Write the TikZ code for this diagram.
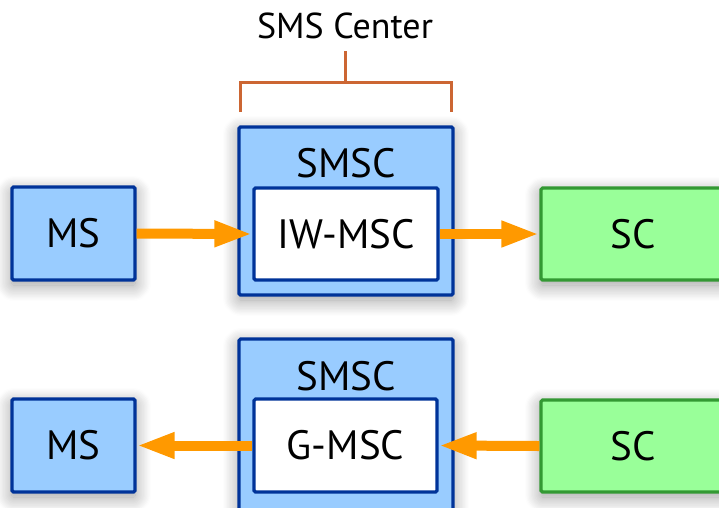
\documentclass[tikz,border=0pt]{standalone}
\usepackage{fontspec}
\setmainfont{PT Sans}
\usetikzlibrary{arrows.meta,shadows.blur}

\definecolor{msfill}{HTML}{99CCFF}
\definecolor{msline}{HTML}{003399}
\definecolor{scfill}{HTML}{99FF99}
\definecolor{scline}{HTML}{339933}
\definecolor{flowcol}{HTML}{FF9900}
\definecolor{bracketcol}{HTML}{CC6633}

\tikzset{
  boxbase/.style={draw, line width=3.2pt, rounded corners=1.5pt, inner sep=0pt,
    text height=28pt, text depth=0pt,
    font=\fontsize{41}{45}\selectfont},
  softshadow/.style={blur shadow={shadow xshift=0pt, shadow yshift=-5pt,
    shadow blur radius=16pt, shadow blur steps=14, shadow opacity=40}},
  bluebox/.style={boxbase, fill=msfill, draw=msline},
  greenbox/.style={boxbase, fill=scfill, draw=scline},
  innerbox/.style={boxbase, fill=white, draw=msline},
  boxlabel/.style={anchor=base, inner sep=0pt, font=\fontsize{41}{45}\selectfont},
  flow/.style={draw=flowcol, line width=10pt,
    -{Triangle[length=38pt,width=24pt]}},
  bracketline/.style={draw=bracketcol, line width=3pt}
}

\begin{document}
\begin{tikzpicture}[x=1pt,y=-1pt]
\useasboundingbox (0,0) rectangle (719,507);
\clip (0,0) rectangle (719,507);

% heading and bracket over the upper SMSC
\node[anchor=base, inner sep=0pt, font=\fontsize{36}{40}\selectfont] (title) at (345,38) {SMS Center};
\coordinate (brL) at (240,112);
\coordinate (brLt) at (240,82);
\coordinate (brRt) at (451,82);
\coordinate (brR) at (451,112);
\coordinate (brM) at (345.5,82);
\coordinate (brTop) at (345.5,51);
\draw[bracketline] (brL) -- (brLt) -- (brRt) -- (brR);
\draw[bracketline] (brM) -- (brTop);

% upper row: MS -> IW-MSC -> SC
\node[bluebox, softshadow, minimum width=123pt, minimum height=93pt] (ms1) at (73.5,233.5) {MS};
\node[bluebox, softshadow, minimum width=214pt, minimum height=168pt] (smsc1) at (346,211) {};
\node[boxlabel] (smsc1lab) at (346,177) {SMSC};
\node[innerbox, minimum width=184pt, minimum height=92pt] (iw) at (346,234) {IW-MSC};
\node[greenbox, softshadow, minimum width=184pt, minimum height=92pt] (sc1) at (633,234) {SC};

\draw[flow] (ms1.east) -- (iw.west);
\draw[flow] (iw.east) -- (sc1.west);

% lower row: SC -> G-MSC -> MS
\node[bluebox, softshadow, minimum width=123pt, minimum height=93pt] (ms2) at (73.5,445.5) {MS};
\node[bluebox, softshadow, minimum width=214pt, minimum height=180pt] (smsc2) at (346,429) {};
\node[boxlabel] (smsc2lab) at (346,390) {SMSC};
\node[innerbox, minimum width=183pt, minimum height=93pt] (gm) at (345.5,445.5) {G-MSC};
\node[greenbox, softshadow, minimum width=184pt, minimum height=92pt] (sc2) at (633,446) {SC};

\draw[flow] (gm.west) -- (ms2.east);
\draw[flow] (sc2.west) -- (gm.east);
\end{tikzpicture}
\end{document}
